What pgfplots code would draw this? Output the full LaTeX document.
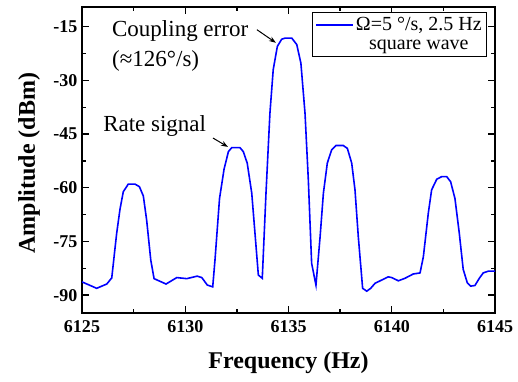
\documentclass[border=0pt]{standalone}
\usepackage{pgfplots}
\pgfplotsset{compat=1.18}
\usepackage{fontspec}
\setmainfont{Liberation Serif}
\usetikzlibrary{arrows.meta}
\pgfplotstableread{
f v
6125.00 -86.3
6125.71 -88.1
6126.20 -86.9
6126.44 -85.2
6126.68 -72.7
6126.84 -66.0
6127.00 -61.1
6127.24 -59.0
6127.57 -59.0
6127.78 -59.7
6127.97 -62.3
6128.13 -69.0
6128.33 -80.2
6128.49 -85.4
6129.07 -86.9
6129.59 -85.1
6130.07 -85.4
6130.58 -84.7
6130.80 -85.1
6131.07 -87.2
6131.33 -87.7
6131.44 -80.2
6131.66 -63.0
6131.88 -54.8
6132.09 -49.9
6132.25 -48.8
6132.65 -48.8
6132.81 -49.9
6133.00 -53.1
6133.22 -61.5
6133.54 -84.4
6133.73 -85.3
6133.91 -61.5
6134.10 -39.2
6134.26 -27.0
6134.46 -20.5
6134.67 -18.5
6134.83 -18.2
6135.16 -18.2
6135.40 -20.0
6135.60 -25.2
6135.80 -39.2
6135.96 -57.8
6136.12 -81.1
6136.33 -87.2
6136.53 -73.7
6136.69 -61.5
6136.88 -53.1
6137.09 -49.4
6137.30 -48.2
6137.65 -48.2
6137.85 -49.0
6138.06 -53.1
6138.22 -60.6
6138.38 -73.7
6138.59 -88.1
6138.79 -88.9
6138.98 -88.1
6139.19 -86.7
6139.51 -85.8
6139.83 -84.9
6140.00 -85.1
6140.32 -86.0
6140.64 -85.3
6141.04 -84.1
6141.37 -83.8
6141.53 -79.3
6141.77 -67.1
6141.93 -60.6
6142.18 -57.6
6142.42 -56.9
6142.66 -56.9
6142.85 -58.3
6143.06 -63.0
6143.27 -72.7
6143.46 -82.8
6143.66 -86.6
6143.82 -87.5
6144.03 -87.3
6144.24 -85.3
6144.43 -83.8
6144.68 -83.3
6145.00 -83.3
}\spectrum
\definecolor{curveblue}{RGB}{0,0,255}
\begin{document}
\begin{tikzpicture}
\begin{axis}[
  at={(0,0)}, anchor=south west,
  width=413pt, height=306pt, scale only axis,
  xmin=6125, xmax=6145, ymin=-95, ymax=-9.5,
  xtick={6125,6130,6135,6140,6145},
  ytick={-90,-75,-60,-45,-30,-15},
  xticklabels={\textbf{6125},\textbf{6130},\textbf{6135},\textbf{6140},\textbf{6145}},
  yticklabels={\textbf{-90},\textbf{-75},\textbf{-60},\textbf{-45},\textbf{-30},\textbf{-15}},
  minor x tick num=1, minor y tick num=1,
  tick align=inside,
  major tick length=7pt, minor tick length=4pt,
  axis line style={line width=1.6pt},
  every tick/.style={line width=1.3pt, black},
  tick label style={font=\fontsize{18}{18}\selectfont\bfseries},
  xticklabel style={yshift=-4pt},
  yticklabel style={xshift=-1pt},
  xlabel={Frequency (Hz)},
  ylabel={Amplitude (dBm)},
  label style={font=\fontsize{24}{24}\selectfont\bfseries},
  xlabel style={at={(axis description cs:0.5,0)}, anchor=base, yshift=-55pt},
  ylabel style={at={(axis description cs:-0.114,0.49)}, anchor=base},
  legend style={at={(axis description cs:0.981,0.984)}, anchor=north east,
    font=\fontsize{20}{23}\selectfont, draw=black, line width=0.8pt,
    inner sep=3pt, row sep=4pt},
  legend cell align=center,
]
\addplot[color=curveblue, line width=1.6pt,
  legend image code/.code={\draw[curveblue, line width=1.8pt] (0pt,0pt) -- (37pt,0pt);}]
  table[x=f,y=v] {\spectrum};
\addlegendentry{Ω=5 °/s, 2.5 Hz}
\addlegendimage{empty legend}
\addlegendentry{square wave}
\node[anchor=base west, font=\fontsize{23}{23}\selectfont, inner sep=0pt] at (axis cs:6126.45,-17.7) {Coupling error};
\node[anchor=base west, font=\fontsize{23}{23}\selectfont, inner sep=0pt] at (axis cs:6126.45,-26.2) {(≈126°/s)};
\node[anchor=base west, font=\fontsize{23}{23}\selectfont, inner sep=0pt] at (axis cs:6126.02,-44.3) {Rate signal};
\draw[-{Stealth[length=7pt,width=5pt]}, line width=1pt] (axis cs:6133.47,-15.84) -- (axis cs:6134.39,-19.5);
\draw[-{Stealth[length=7pt,width=5pt]}, line width=1pt] (axis cs:6131.34,-46.1) -- (axis cs:6132.07,-48.6);
\end{axis}
\path (-82pt,-68pt) rectangle (436pt,313pt);
\end{tikzpicture}
\end{document}
